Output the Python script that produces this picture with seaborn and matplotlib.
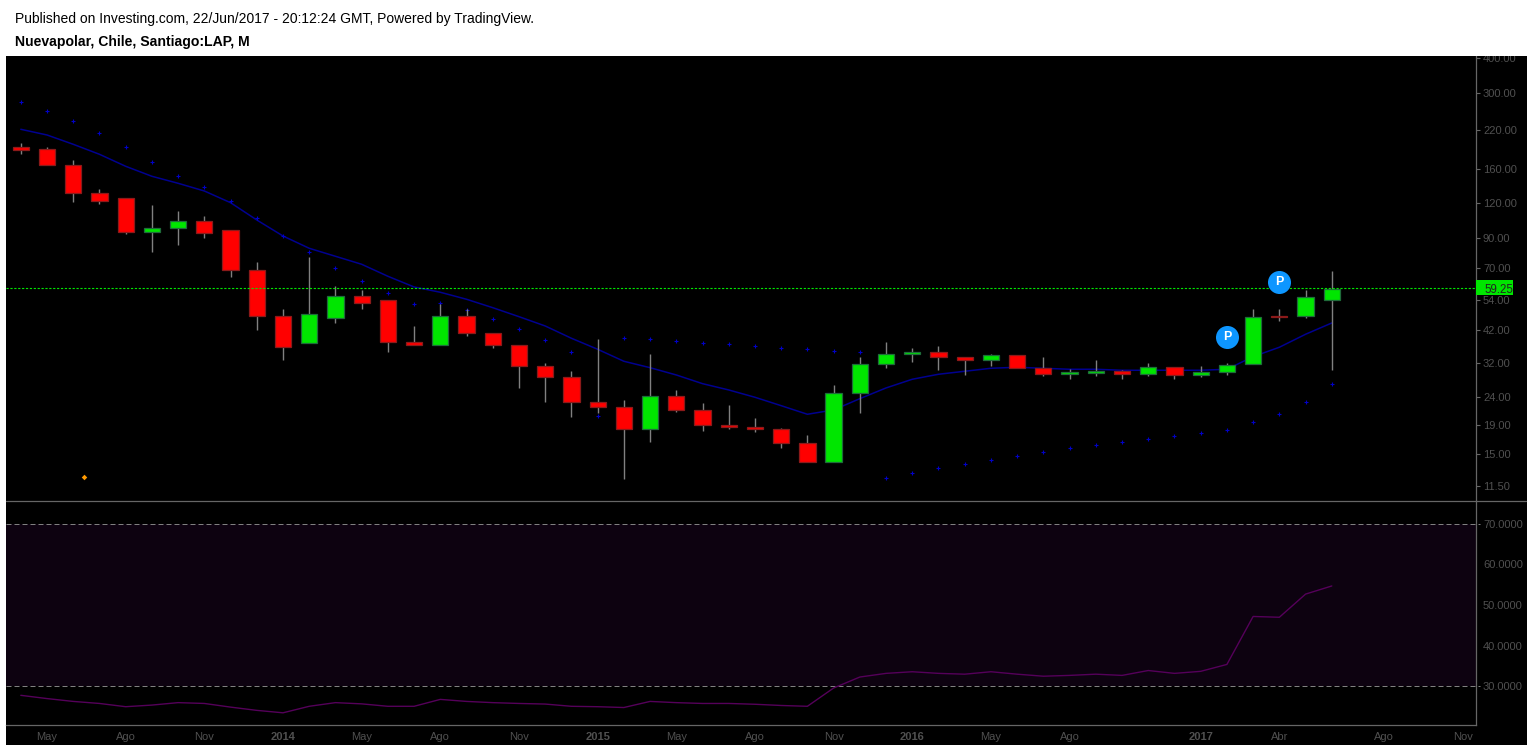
import matplotlib.pyplot as plt
from matplotlib.lines import Line2D
from matplotlib.patches import Rectangle
from matplotlib.transforms import blended_transform_factory
import numpy as np
import pandas as pd
import seaborn as sns

body_top = [191.0, 188.0, 165.0, 131.0, 125.0, 97.6, 104.0, 104.0, 96.0, 68.9, 47.0, 47.8, 55.5, 55.5, 53.7, 37.9, 47.0, 47.0, 40.8, 37.0, 31.1, 28.3, 23.0, 22.1, 24.2, 24.2, 21.6, 19.0, 18.7, 18.4, 16.4, 24.8, 31.6, 34.3, 34.9, 34.9, 33.5, 34.0, 34.0, 30.5, 29.5, 29.9, 29.8, 30.8, 30.8, 29.5, 31.5, 46.9, 47.1, 55.3, 59.1]
body_bottom = [187.0, 165.0, 131.0, 122.0, 94.4, 94.4, 97.6, 93.6, 68.9, 47.0, 36.4, 37.6, 46.2, 52.4, 37.9, 37.0, 37.0, 40.8, 37.0, 31.1, 28.3, 23.0, 22.1, 18.4, 18.4, 21.6, 19.0, 18.7, 18.4, 16.4, 14.0, 14.0, 24.8, 31.6, 34.3, 33.5, 32.6, 32.6, 30.5, 29.1, 29.1, 29.4, 29.1, 29.1, 28.8, 28.8, 29.5, 31.6, 46.8, 47.0, 53.7]
wick_high = [198.0, 192.0, 172.0, 135.0, 125.0, 118.0, 113.0, 108.0, 96.0, 73.8, 50.0, 76.9, 60.5, 58.5, 53.7, 43.4, 52.1, 49.8, 40.8, 37.0, 31.8, 29.9, 38.9, 23.5, 34.4, 25.5, 22.9, 22.5, 20.2, 18.6, 17.6, 26.6, 33.5, 38.0, 36.1, 36.8, 33.5, 34.4, 34.0, 33.5, 30.4, 32.7, 30.0, 31.9, 30.8, 31.1, 31.9, 50.0, 50.0, 58.5, 68.5]
wick_low = [181.0, 165.0, 121.0, 119.0, 93.3, 80.4, 85.2, 90.3, 65.3, 42.1, 32.7, 37.6, 44.5, 50.0, 35.0, 37.0, 37.0, 39.9, 36.2, 26.0, 23.1, 20.4, 21.1, 12.2, 16.6, 21.3, 18.2, 18.5, 18.0, 15.7, 14.0, 14.0, 21.1, 30.7, 32.2, 30.1, 29.0, 31.1, 30.5, 28.7, 27.9, 28.7, 27.9, 28.7, 27.9, 28.4, 28.9, 31.6, 45.2, 46.5, 30.1]
is_up = [0, 0, 0, 0, 0, 1, 1, 0, 0, 0, 0, 1, 1, 0, 0, 0, 1, 0, 0, 0, 0, 0, 0, 0, 1, 0, 0, 0, 0, 0, 0, 1, 1, 1, 1, 0, 0, 1, 0, 0, 1, 1, 0, 1, 0, 1, 1, 1, 0, 1, 1]

ema = [221.96, 211.71, 195.98, 180.38, 163.28, 150.28, 141.79, 133.02, 120.71, 104.57, 91.56, 82.68, 77.37, 72.4, 65.54, 59.97, 57.39, 54.15, 50.5, 46.87, 43.39, 39.18, 35.76, 32.37, 30.69, 28.89, 26.88, 25.51, 24.01, 22.39, 20.85, 21.61, 23.73, 25.94, 27.88, 29.06, 29.79, 30.54, 30.8, 30.54, 30.29, 30.29, 30.04, 30.04, 30.04, 30.04, 30.29, 33.63, 36.36, 40.5, 44.48]
sar = [279.1, 259.01, 238.38, 215.79, 192.12, 169.63, 151.03, 137.17, 122.73, 106.58, 91.79, 80.38, 70.38, 63.19, 57.2, 52.21, 52.38, 49.67, 46.1, 42.14, 38.53, 34.88, 20.51, 39.18, 38.85, 38.21, 37.58, 37.27, 36.66, 36.06, 35.76, 35.17, 34.88, 12.26, 12.78, 13.32, 13.77, 14.23, 14.71, 15.21, 15.72, 16.12, 16.53, 16.94, 17.37, 17.81, 18.26, 19.51, 20.85, 23.03, 26.74]
rsi = [27.8, 27.0, 26.3, 25.8, 25.0, 25.4, 26.0, 25.8, 24.9, 24.1, 23.5, 25.1, 26.0, 25.7, 25.1, 25.1, 26.8, 26.3, 26.0, 25.8, 25.65, 25.1, 25.0, 24.8, 26.3, 26.0, 25.8, 25.8, 25.6, 25.3, 25.1, 29.6, 32.3, 33.2, 33.6, 33.2, 33.0, 33.6, 33.0, 32.5, 32.7, 33.0, 32.7, 33.9, 33.2, 33.7, 35.4, 47.2, 47.0, 52.7, 54.7]

price_ticks = [400, 300, 220, 160, 120, 90, 70, 54, 42, 32, 24, 19, 15, 11.5]
rsi_ticks = [70, 60, 50, 40, 30]
month_pos = [1, 4, 7, 10, 13, 16, 19, 22, 25, 28, 31, 34, 37, 40, 45, 48, 52, 55]
month_labels = ["May", "Ago", "Nov", "2014", "May", "Ago", "Nov", "2015", "May", "Ago", "Nov", "2016", "May", "Ago", "2017", "Abr", "Ago", "Nov"]
last_price = 59.25
pivot_x = [46, 48]
pivot_y = [39.6, 62.6]
dot_x = [2.41]
dot_y = [12.4]

W, H = 1533, 749
GREY = "#666666"
LABEL = "#505050"
GREEN = "#00e600"

sns.set_theme(style="dark", rc={"axes.facecolor": "black", "figure.facecolor": "white"})
plt.rcParams["font.family"] = ["Liberation Sans", "DejaVu Sans"]

fig = plt.figure(figsize=(W / 100, H / 100), dpi=100)
fig.patches.append(Rectangle((6 / W, 4 / H), 1521 / W, 1 - 60 / H, transform=fig.transFigure, facecolor="black", edgecolor="none", zorder=-1))

ax = fig.add_axes([6 / W, 1 - 501 / H, 1470 / W, 445 / H], facecolor="black")
ax_rsi = fig.add_axes([6 / W, 1 - 725 / H, 1470 / W, 224 / H], facecolor="black")

df = pd.DataFrame({"bar": np.arange(len(ema)), "top": body_top, "bottom": body_bottom, "high": wick_high, "low": wick_low, "up": is_up, "ema": ema, "sar": sar, "rsi": rsi})

ax.set_yscale("log")
ax.vlines(df["bar"], df["low"], df["high"], color="#808080", linewidth=1, zorder=2)
sns.lineplot(data=df, x="bar", y="ema", color="#000090", linewidth=1.1, ax=ax, zorder=1)
sns.scatterplot(data=df, x="bar", y="sar", marker="+", color="#0000c8", s=11, linewidth=0.8, ax=ax, zorder=1)
for up, group in df.groupby("up"):
    ax.bar(group["bar"], group["top"] - group["bottom"], bottom=group["bottom"], width=0.62,
           color=GREEN if up else "#ff0000", edgecolor="#1f6b3a" if up else "#8b1a1a", linewidth=0.9, zorder=3)

ax.axhline(last_price, color=GREEN, linewidth=0.8, linestyle=(0, (2, 1.5)), zorder=4)
sns.scatterplot(x=pivot_x, y=pivot_y, color="#0d96ff", s=275, linewidth=0, ax=ax, zorder=5)
for x, y in zip(pivot_x, pivot_y):
    ax.text(x, y, "P", color="white", fontsize=9, fontweight="bold", ha="center", va="center", zorder=6)
sns.scatterplot(x=dot_x, y=dot_y, color="#ff9a00", marker="D", s=8, linewidth=0, ax=ax, zorder=2)

ax.set_xlim(-0.564, 55.5)
ax.set_ylim(10.15, 407.8)
ax.set_yticks(price_ticks)
ax.set_yticklabels([f"{v:.2f}" for v in price_ticks])
ax.minorticks_off()
ax.yaxis.tick_right()
ax.tick_params(axis="y", labelsize=8, length=3, width=0.8, color=GREY, pad=2, labelcolor=LABEL)
ax.tick_params(axis="x", bottom=False, labelbottom=False)
ax.set_xlabel("")
ax.set_ylabel("")

# green price tag on the right axis
trans = blended_transform_factory(ax.transAxes, ax.transData)
ax.add_patch(Rectangle((1.0, 55.9), 37 / 1470, 7.7, transform=trans, facecolor=GREEN, edgecolor="none", clip_on=False, zorder=6))
ax.text(1.0 + 8 / 1470, last_price, "59.25", transform=trans, color="#222222", fontsize=8.3, va="center_baseline", ha="left", zorder=7)

ax_rsi.axhspan(30, 70, facecolor="#0d0210", edgecolor="none", zorder=0)
for level in [70, 30]:
    ax_rsi.axhline(level, xmax=1.003, color="#808080", linewidth=0.72, linestyle=(0, (5, 3)), clip_on=False, zorder=2)
sns.lineplot(data=df, x="bar", y="rsi", color="#55005a", linewidth=1.0, ax=ax_rsi, zorder=3)
ax_rsi.set_xlim(-0.564, 55.5)
ax_rsi.set_ylim(20.5, 75.6)
ax_rsi.set_yticks(rsi_ticks)
ax_rsi.set_yticklabels([f"{v:.4f}" for v in rsi_ticks])
ax_rsi.yaxis.tick_right()
ax_rsi.tick_params(axis="y", labelsize=8, length=0, pad=5, labelcolor=LABEL)
ax_rsi.set_xticks(month_pos)
ax_rsi.set_xticklabels(month_labels)
ax_rsi.tick_params(axis="x", labelsize=8, length=3, width=0.8, color=GREY, pad=2, labelcolor=LABEL)
for tick in ax_rsi.get_xticklabels():
    if tick.get_text().isdigit():
        tick.set_fontweight("bold")
ax_rsi.set_xlabel("")
ax_rsi.set_ylabel("")

for a in [ax, ax_rsi]:
    for side in ["top", "left"]:
        a.spines[side].set_visible(False)
    for side in ["right", "bottom"]:
        a.spines[side].set_color(GREY)
        a.spines[side].set_linewidth(0.9)
ax.spines["bottom"].set_visible(False)
fig.add_artist(Line2D([6 / W, 1526 / W], [1 - 501 / H, 1 - 501 / H], color=GREY, linewidth=0.9))

# white header band sits on top so the 400.00 label is cut like in the reference
fig.patches.append(Rectangle((0, 1 - 56 / H), 1, 56 / H, transform=fig.transFigure, facecolor="white", edgecolor="none", zorder=10))
fig.text(15 / W, 1 - 19 / H, "Published on Investing.com, 22/Jun/2017 - 20:12:24 GMT, Powered by TradingView.", fontsize=10, color="black", va="center", zorder=11)
fig.text(15 / W, 1 - 42 / H, "Nuevapolar, Chile, Santiago:LAP, M", fontsize=10.1, fontweight="bold", color="black", va="center", zorder=11)

fig.savefig("out.png", dpi=100)
